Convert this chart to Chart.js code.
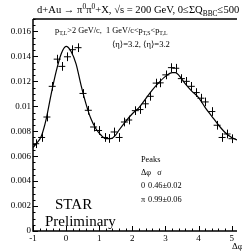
<!DOCTYPE html>
<html><head><meta charset="utf-8">
<script src="https://cdn.jsdelivr.net/npm/chart.js@4"></script>
<style>html,body{margin:0;padding:0;background:#fff}#c{display:block}</style>
</head><body>
<canvas id="c" width="242" height="252" style="width:242px;height:252px"></canvas>
<script>
// ---- data ----
const dphi = [-0.92,-0.74,-0.58,-0.42,-0.27,-0.13,0.04,0.19,0.36,0.51,0.67,0.83,0.98,1.16,1.30,1.45,1.60,1.76,1.89,2.09,2.23,2.39,2.54,2.72,2.84,3.01,3.18,3.31,3.48,3.63,3.78,3.93,4.07,4.20,4.40,4.56,4.71,4.86,5.01];
const yieldVals = [0.00700,0.00750,0.00914,0.01160,0.01378,0.01320,0.01397,0.01454,0.01470,0.01103,0.00968,0.00834,0.00806,0.00750,0.00742,0.00794,0.00750,0.00874,0.00890,0.00965,0.00974,0.01020,0.01080,0.01186,0.01188,0.01252,0.01310,0.01305,0.01222,0.01200,0.01160,0.01110,0.01065,0.01035,0.00958,0.00848,0.00750,0.00778,0.00740];
const yieldErr = [0.00035,0.00035,0.00035,0.00035,0.00035,0.00035,0.00035,0.00035,0.00035,0.00035,0.00035,0.00035,0.00035,0.00035,0.00035,0.00035,0.00035,0.00035,0.00035,0.00035,0.00035,0.00035,0.00035,0.00035,0.00035,0.00035,0.00035,0.00035,0.00035,0.00035,0.00035,0.00035,0.00035,0.00035,0.00035,0.00035,0.00035,0.00035,0.00035];
const fitX = [-1.0,-0.9,-0.75,-0.6,-0.45,-0.3,-0.15,0.0,0.15,0.3,0.45,0.6,0.75,0.9,1.05,1.2,1.35,1.5,1.6,1.8,2.0,2.2,2.4,2.6,2.8,3.0,3.2,3.3,3.4,3.6,3.8,4.0,4.2,4.4,4.6,4.8,5.0,5.16];
const fitY = [0.0067,0.0070,0.0076,0.0090,0.0110,0.0128,0.0142,0.0148,0.0144,0.0134,0.0117,0.0102,0.0090,0.0082,0.0077,0.0074,0.0074,0.0077,0.0081,0.0088,0.0094,0.0099,0.0106,0.0113,0.0119,0.0124,0.0127,0.0127,0.0125,0.0118,0.0112,0.0107,0.0099,0.0092,0.0085,0.0079,0.0075,0.0073];
const xTicks = [-1,0,1,2,3,4,5];
const xTickLabels = ['-1','0','1','2','3','4','5'];
const yTicks = [0,0.002,0.004,0.006,0.008,0.01,0.012,0.014,0.016];
const yTickLabels = ['0','0.002','0.004','0.006','0.008','0.01','0.012','0.014','0.016'];
const peakRows = [['0','0.46±0.02'],['π','0.99±0.06']];

const SERIF = "'Liberation Serif', 'DejaVu Serif', serif";

function drawRich(ctx, x, y, segs, size) {
  let cx = x;
  for (const s of segs) {
    let fs = size, dy = 0;
    if (s.s === 'sup') { fs = size * 0.7; dy = -size * 0.38; }
    if (s.s === 'sub') { fs = size * 0.7; dy = size * 0.25; }
    ctx.font = fs + 'px ' + SERIF;
    ctx.fillText(s.t, cx, y + dy);
    cx += ctx.measureText(s.t).width;
  }
}

const decor = {
  id: 'decor',
  afterDraw(chart) {
    const ctx = chart.ctx, a = chart.chartArea;
    const xs = chart.scales.x, ys = chart.scales.y;
    ctx.save();
    ctx.strokeStyle = '#000'; ctx.fillStyle = '#000';
    // error bars
    ctx.lineWidth = 1;
    dphi.forEach((d, i) => {
      const px = Math.round(xs.getPixelForValue(d)) + 0.5;
      ctx.beginPath();
      ctx.moveTo(px, ys.getPixelForValue(yieldVals[i] - yieldErr[i]));
      ctx.lineTo(px, ys.getPixelForValue(yieldVals[i] + yieldErr[i]));
      ctx.stroke();
    });
    // frame
    ctx.lineWidth = 1.5;
    ctx.beginPath();
    ctx.moveTo(a.left, a.top); ctx.lineTo(a.left, a.bottom); ctx.lineTo(a.right, a.bottom);
    ctx.moveTo(a.left, a.top); ctx.lineTo(a.right, a.top);
    ctx.stroke();
    // inward ticks
    ctx.lineWidth = 1;
    ctx.beginPath();
    for (let v = -1; v <= 5.16; v += 0.2) {
      const px = Math.round(xs.getPixelForValue(v)) + 0.5;
      const major = Math.abs(v - Math.round(v)) < 1e-6;
      ctx.moveTo(px, a.bottom); ctx.lineTo(px, a.bottom - (major ? 5 : 2.5));
    }
    for (let v = 0; v <= 0.0170001; v += 0.0005) {
      const py = Math.round(ys.getPixelForValue(v)) + 0.5;
      const major = Math.abs(v / 0.002 - Math.round(v / 0.002)) < 1e-6;
      ctx.moveTo(a.left, py); ctx.lineTo(a.left + (major ? 5 : 2.5), py);
    }
    ctx.stroke();
    // texts
    ctx.textBaseline = 'alphabetic'; ctx.textAlign = 'left';
    drawRich(ctx, 37, 13, [{t:'d+Au \u2192 \u03c0'},{t:'0',s:'sup'},{t:'\u03c0'},{t:'0',s:'sup'},{t:'+X, \u221as = 200 GeV, 0\u2264\u03a3Q'},{t:'BBC',s:'sub'},{t:'\u2264500'}], 10.6);
    drawRich(ctx, 55, 33, [{t:'p'},{t:'T,L',s:'sub'},{t:'>2 GeV/c,  1 GeV/c<p'},{t:'T,S',s:'sub'},{t:'<p'},{t:'T,L',s:'sub'}], 8.3);
    drawRich(ctx, 112, 47, [{t:'\u27e8\u03b7\u27e9=3.2, \u27e8\u03b7\u27e9=3.2'}], 8.6);
    drawRich(ctx, 141, 162, [{t:'Peaks'}], 8.3);
    drawRich(ctx, 141, 175, [{t:'\u0394\u03c6   \u03c3'}], 8.3);
    peakRows.forEach((r, i) => {
      drawRich(ctx, 141, 188 + i * 14, [{t:r[0]}], 8.3);
      drawRich(ctx, 148, 188 + i * 14, [{t:r[1]}], 8.3);
    });
    drawRich(ctx, 55, 209, [{t:'STAR'}], 15);
    drawRich(ctx, 45, 226, [{t:'Preliminary'}], 15);
    drawRich(ctx, 232, 249, [{t:'\u0394\u03c6'}], 9);
    ctx.restore();
  }
};

new Chart(document.getElementById('c'), {
  type: 'scatter',
  data: {
    datasets: [
      {
        type: 'line',
        data: fitX.map((x, i) => ({x, y: fitY[i]})),
        borderColor: '#000', borderWidth: 1.2, pointRadius: 0,
        cubicInterpolationMode: 'monotone', fill: false
      },
      {
        data: dphi.map((x, i) => ({x, y: yieldVals[i]})),
        pointStyle: 'line', pointRadius: 3.5, borderColor: '#000', borderWidth: 1,
        backgroundColor: '#000', showLine: false
      }
    ]
  },
  options: {
    responsive: false, animation: false, devicePixelRatio: 1,
    layout: { padding: { top: 19, right: 0, left: 0, bottom: 0 } },
    plugins: { legend: { display: false }, tooltip: { enabled: false } },
    scales: {
      x: {
        type: 'linear', min: -1, max: 5.16,
        afterBuildTicks: s => { s.ticks = xTicks.map(v => ({ value: v })); },
        afterFit: s => { s.height = 21; },
        grid: { display: false, drawTicks: false }, border: { display: false },
        ticks: { color: '#000', font: { family: SERIF, size: 9 }, padding: 2, maxRotation: 0, autoSkip: false,
                 callback: v => xTickLabels[xTicks.indexOf(v)] }
      },
      y: {
        type: 'linear', min: 0, max: 0.017,
        afterBuildTicks: s => { s.ticks = yTicks.map(v => ({ value: v })); },
        afterFit: s => { s.width = 33; },
        grid: { display: false, drawTicks: false }, border: { display: false },
        ticks: { color: '#000', font: { family: SERIF, size: 9 }, padding: 2, autoSkip: false,
                 callback: (v, i) => yTickLabels[i] }
      }
    }
  },
  plugins: [decor]
});
</script>
</body></html>
